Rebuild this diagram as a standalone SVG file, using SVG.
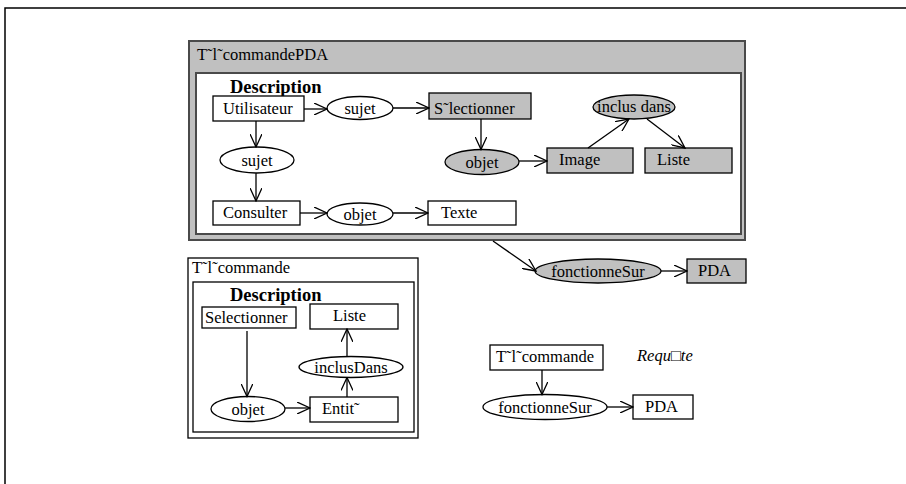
<svg xmlns="http://www.w3.org/2000/svg" width="906" height="484" viewBox="0 0 906 484">
<defs>
<marker id="arr" viewBox="0 0 14 12" refX="13" refY="6" markerWidth="14" markerHeight="12" markerUnits="userSpaceOnUse" orient="auto">
<path d="M0,0 L13,6 L0,12" fill="none" stroke="#000" stroke-width="1.3"/>
</marker>
</defs>
<style>
text{font-family:"Liberation Serif","Times New Roman",serif;font-size:16.5px;fill:#000}
.b{font-weight:bold;font-size:18.5px}
.i{font-style:italic}
.c{text-anchor:middle}
.n{fill:#fff;stroke:#000;stroke-width:1.3}
.g{fill:#c0c0c0;stroke:#000;stroke-width:1.3}
.frame{fill:#c0c0c0;stroke:#4a4a4a;stroke-width:2}
.inner{fill:#fff;stroke:#4a4a4a;stroke-width:2}
.e{fill:none;stroke:#000;stroke-width:1.3;marker-end:url(#arr)}
</style>
<rect width="906" height="484" fill="#fff"/>
<path d="M5,484 V8 H906" fill="none" stroke="#000" stroke-width="1.5"/>

<g id="teleCommandePDA">
<rect class="frame" x="189" y="41" width="556" height="199"/>
<text x="197" y="60">T˜l˜commandePDA</text>
<rect class="inner" x="196" y="73" width="545" height="161"/>
<text class="b" x="230" y="93">Description</text>
</g>
<g id="utilisateur"><rect class="n" x="213" y="96" width="91" height="25"/><text x="223" y="114">Utilisateur</text></g>
<g id="sujet1"><ellipse class="n" cx="360" cy="108" rx="33" ry="11.5"/><text class="c" x="360" y="114">sujet</text></g>
<g id="selectionner1"><rect class="g" x="429" y="93" width="102" height="26"/><text x="434" y="114">S˜lectionner</text></g>
<g id="sujet2"><ellipse class="n" cx="257" cy="160" rx="37" ry="13"/><text class="c" x="257" y="166">sujet</text></g>
<g id="objet1"><ellipse class="g" cx="482" cy="162" rx="37" ry="12.5"/><text class="c" x="482" y="168">objet</text></g>
<g id="image"><rect class="g" x="547" y="148" width="86" height="25"/><text x="559" y="165">Image</text></g>
<g id="inclusDans1"><ellipse class="g" cx="634" cy="107" rx="41" ry="12"/><text class="c" x="634" y="112">inclus dans</text></g>
<g id="liste1"><rect class="g" x="645" y="148" width="87" height="25"/><text x="657" y="165">Liste</text></g>
<g id="consulter"><rect class="n" x="213" y="201" width="87" height="24"/><text x="223" y="218">Consulter</text></g>
<g id="objet2"><ellipse class="n" cx="360" cy="214" rx="33" ry="11"/><text class="c" x="360" y="220">objet</text></g>
<g id="texte"><rect class="n" x="428" y="201" width="88" height="24"/><text x="441" y="218">Texte</text></g>

<g id="fonctionneSur1"><ellipse class="g" cx="598" cy="271" rx="63" ry="12"/><text class="c" x="598" y="277">fonctionneSur</text></g>
<g id="pda1"><rect class="g" x="687" y="259" width="59" height="24"/><text x="698" y="276">PDA</text></g>

<g id="teleCommande">
<rect fill="#fff" stroke="#000" stroke-width="1.3" x="188" y="258" width="230" height="180"/>
<text x="192" y="273">T˜l˜commande</text>
<rect fill="#fff" stroke="#000" stroke-width="1.3" x="193" y="282" width="221" height="150"/>
<text class="b" x="230" y="301">Description</text>
</g>
<g id="selectionner2"><rect class="n" x="202" y="307" width="94" height="21"/><text x="205" y="323">Selectionner</text></g>
<g id="liste2"><rect class="n" x="310" y="304" width="88" height="25"/><text x="333" y="321">Liste</text></g>
<g id="inclusDans2"><ellipse class="n" cx="351" cy="367" rx="52" ry="10.5"/><text class="c" x="351" y="373">inclusDans</text></g>
<g id="objet3"><ellipse class="n" cx="248" cy="409" rx="37" ry="12.5"/><text class="c" x="248" y="415">objet</text></g>
<g id="entite"><rect class="n" x="310" y="397" width="88" height="25"/><text x="322" y="414">Entit˜</text></g>

<g id="teleCommande2"><rect class="n" x="490" y="345" width="113" height="25"/><text x="496" y="362">T˜l˜commande</text></g>
<g id="requete"><text class="i" x="637" y="361">Requ□te</text></g>
<g id="fonctionneSur2"><ellipse class="n" cx="545" cy="407" rx="62" ry="12.5"/><text class="c" x="545" y="413">fonctionneSur</text></g>
<g id="pda2"><rect class="n" x="633" y="395" width="60" height="24"/><text x="645" y="412">PDA</text></g>

<g id="connectors">
<line class="e" x1="304" y1="109" x2="327" y2="109"/>
<line class="e" x1="393" y1="108" x2="429" y2="108"/>
<line class="e" x1="256" y1="121" x2="256" y2="147"/>
<line class="e" x1="256" y1="173" x2="256" y2="201"/>
<line class="e" x1="300" y1="213" x2="327" y2="213"/>
<line class="e" x1="393" y1="213" x2="428" y2="213"/>
<line class="e" x1="481" y1="119" x2="481" y2="149.5"/>
<line class="e" x1="519" y1="161" x2="547" y2="161"/>
<line class="e" x1="588" y1="148" x2="629" y2="119"/>
<line class="e" x1="647" y1="119" x2="685" y2="148"/>
<line class="e" x1="493" y1="241" x2="536" y2="271"/>
<line class="e" x1="661" y1="271" x2="687" y2="271"/>
<line class="e" x1="247" y1="331" x2="247" y2="396.5"/>
<line class="e" x1="285" y1="408" x2="310" y2="408"/>
<line class="e" x1="347" y1="397" x2="347" y2="377.5"/>
<line class="e" x1="347" y1="356.5" x2="347" y2="329"/>
<line class="e" x1="542" y1="370" x2="542" y2="394.5"/>
<line class="e" x1="607" y1="407" x2="633" y2="407"/>
</g>
</svg>
